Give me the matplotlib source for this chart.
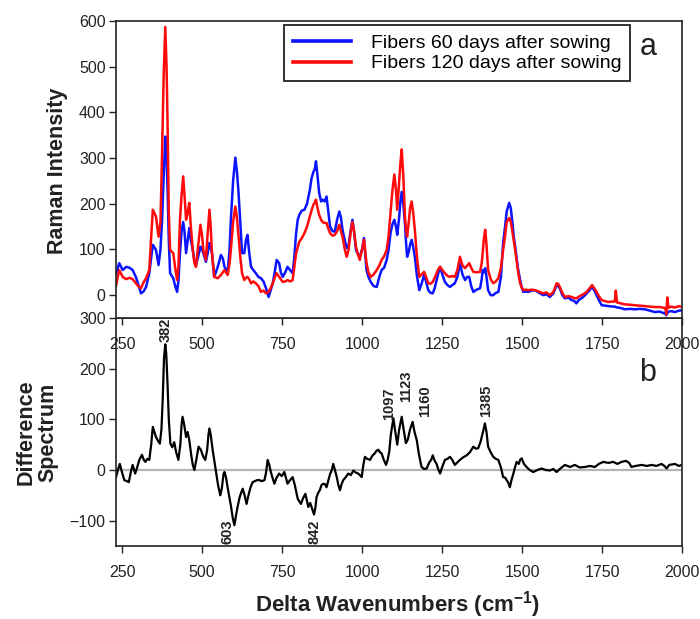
import matplotlib
matplotlib.use("Agg")
import matplotlib.pyplot as plt
import numpy as np

plt.rcParams['font.family'] = ['Liberation Sans', 'DejaVu Sans']
plt.rcParams['mathtext.fontset'] = 'custom'
plt.rcParams['mathtext.rm'] = 'Liberation Sans'
plt.rcParams['mathtext.bf'] = 'Liberation Sans:bold'

# ---------------- data: top panel (Raman spectra) ----------------
wn_top = [231, 241, 252, 263, 273, 283, 293, 300, 309, 317, 325, 335, 346, 356, 364, 370, 375, 380,
          385, 389, 392, 396, 400, 410, 416, 422, 426, 431, 436, 441, 445, 450, 455, 460, 465, 471,
          476, 481, 488, 495, 500, 504, 512, 517, 523, 527, 531, 538, 549, 559, 565, 570, 580, 586,
          590, 597, 604, 609, 614, 620, 625, 632, 637, 642, 647, 653, 660, 668, 676, 684, 692, 700,
          708, 714, 721, 727, 733, 741, 746, 752, 760, 767, 775, 783, 788, 794, 799, 804, 812, 820,
          828, 837, 842, 848, 852, 856, 861, 866, 872, 877, 883, 889, 895, 900, 908, 915, 922, 929,
          934, 939, 946, 952, 958, 964, 970, 975, 981, 987, 993, 1000, 1006, 1010, 1014, 1020, 1027,
          1036, 1046, 1054, 1061, 1069, 1077, 1083, 1089, 1095, 1101, 1106, 1110, 1116, 1120, 1124,
          1129, 1134, 1138, 1141, 1146, 1150, 1155, 1160, 1165, 1172, 1179, 1186, 1194, 1200, 1207,
          1214, 1221, 1227, 1233, 1239, 1244, 1251, 1259, 1267, 1275, 1282, 1290, 1298, 1306, 1314,
          1322, 1329, 1335, 1341, 1348, 1358, 1369, 1374, 1377, 1381, 1385, 1389, 1394, 1402, 1410,
          1418, 1426, 1434, 1441, 1447, 1452, 1460, 1465, 1469, 1474, 1480, 1487, 1493, 1498, 1504,
          1512, 1519, 1530, 1540, 1552, 1566, 1576, 1587, 1598, 1608, 1613, 1618, 1626, 1634, 1645,
          1655, 1662, 1670, 1678, 1686, 1694, 1702, 1710, 1719, 1726, 1733, 1741, 1749, 1760, 1769,
          1782, 1790, 1793, 1797, 1808, 1821, 1837, 1853, 1868, 1884, 1900, 1915, 1930, 1945, 1948,
          1951, 1954, 1958, 1965, 1978, 1990, 2000]

blue_60 = [45, 70, 55, 62, 60, 55, 40, 25, 4, 8, 18, 48, 110, 99, 66, 100, 165, 260,
           347, 300, 237, 120, 48, 37, 20, 7, 30, 92, 140, 160, 140, 92, 120, 147, 120, 99,
           75, 66, 85, 106, 100, 92, 73, 90, 114, 105, 92, 40, 62, 88, 80, 62, 51, 100,
           165, 250, 301, 270, 224, 150, 92, 92, 120, 132, 95, 62, 55, 48, 40, 37, 30, 15,
           -4, 10, 26, 50, 77, 70, 50, 40, 50, 62, 55, 48, 80, 136, 165, 176, 185, 187,
           200, 231, 255, 270, 275, 293, 260, 224, 205, 209, 205, 216, 180, 150, 140, 139, 165, 183,
           170, 143, 120, 103, 110, 140, 165, 140, 99, 90, 84, 100, 125, 90, 55, 40, 29,
           20, 18, 40, 55, 60, 77, 100, 136, 155, 165, 150, 132, 170, 205, 226,
           200, 158, 110, 84, 95, 110, 121, 105, 84, 40, 11, 25, 44, 30, 11,
           5, 4, 15, 33, 50, 62, 45, 29, 22, 18, 22, 26, 40, 70, 45,
           33, 40, 40, 20, 7, 12, 15, 35, 55, 50, 59, 40, 11, 0, 0,
           5, 7, 40, 114, 150, 183, 202, 190, 165, 130, 99, 60, 37, 20, 7,
           8, 7, 10, 11, 6, 0, 2, -4, 4, 22, 20, 15, 0, -7, -5,
           -11, -12, -18, -10, -7, -2, 4, 10, 18, 10, 0, -12, -22, -23, -24,
           -25, -25, -26, -27, -28, -31, -30, -31, -30, -31, -34, -37, -36, -40, -38,
           -44, -40, -36, -35, -37, -34, -33]

red_120 = [20, 55, 40, 35, 38, 35, 26, 20, 15, 28, 37, 55, 187, 172, 128, 160, 312, 480,
           587, 500, 385, 180, 99, 92, 60, 33, 60, 165, 220, 260, 220, 165, 180, 202, 150, 99,
           70, 62, 110, 154, 130, 99, 77, 130, 187, 150, 92, 40, 37, 44, 50, 55, 44, 70,
           99, 160, 194, 170, 128, 80, 48, 33, 38, 40, 35, 26, 30, 26, 20, 7, 10, 4,
           7, 15, 26, 38, 48, 40, 35, 29, 30, 33, 30, 33, 60, 92, 105, 117, 125, 136,
           150, 172, 185, 198, 202, 209, 190, 176, 165, 160, 158, 158, 145, 136, 130, 132, 140, 154,
           140, 128, 100, 84, 100, 135, 160, 140, 106, 90, 77, 100, 121, 95, 70, 50, 40,
           45, 55, 65, 77, 85, 99, 130, 180, 230, 264, 230, 187, 250, 290, 319,
           260, 172, 140, 128, 160, 190, 205, 180, 143, 80, 40, 45, 51, 40, 26,
           25, 29, 38, 48, 58, 62, 55, 48, 42, 40, 42, 40, 55, 84, 65,
           59, 65, 70, 60, 51, 50, 51, 70, 92, 125, 143, 110, 55, 35, 26,
           30, 37, 60, 99, 130, 160, 169, 160, 143, 120, 92, 55, 29, 18, 11,
           12, 11, 12, 11, 8, 4, 6, 0, 7, 26, 25, 18, 5, -4, -2,
           -4, -6, -7, -3, 0, 3, 7, 14, 22, 15, 7, -3, -11, -13, -15,
           -14, -14, 10, -16, -18, -20, -21, -22, -23, -24, -25, -26, -26, -28, -28,
           -42, -5, -28, -25, -27, -24, -26]

# ---------------- data: bottom panel (difference spectrum) ----------------
wn_diff = [231, 237, 243, 250, 257, 265, 271, 277, 283, 291, 297, 304, 312, 318, 323, 329, 335, 341,
           346, 351, 356, 362, 368, 373, 377, 381, 385, 388, 392, 396, 401, 407, 413, 419, 426, 432,
           436, 439, 444, 450, 455, 460, 466, 471, 476, 482, 489, 496, 504, 510, 516, 520, 523, 527,
           533, 539, 544, 550, 557, 562, 567, 570, 575, 580, 585, 590, 596, 601, 606, 611, 617, 622,
           627, 633, 639, 645, 651, 658, 665, 672, 679, 687, 695, 700, 705, 710, 715, 720, 726, 733,
           741, 749, 757, 762, 767, 775, 783, 790, 799, 804, 809, 816, 823, 832, 838, 846, 850, 854,
           858, 863, 868, 873, 879, 884, 889, 895, 900, 905, 910, 915, 921, 926, 931, 936, 941, 948,
           957, 965, 973, 980, 988, 993, 999, 1004, 1009, 1016, 1025, 1032, 1040, 1045, 1051, 1056,
           1061, 1068, 1075, 1080, 1085, 1090, 1098, 1104, 1110, 1116, 1124, 1130, 1137, 1143, 1150,
           1158, 1164, 1171, 1178, 1186, 1194, 1202, 1210, 1216, 1221, 1227, 1233, 1239, 1244, 1250,
           1259, 1267, 1275, 1282, 1290, 1298, 1306, 1316, 1327, 1337, 1348, 1356, 1363, 1370, 1378,
           1384, 1389, 1394, 1402, 1410, 1418, 1426, 1434, 1441, 1447, 1452, 1457, 1462, 1467, 1473,
           1478, 1483, 1490, 1494, 1499, 1506, 1514, 1524, 1535, 1548, 1561, 1574, 1587, 1598, 1608,
           1620, 1634, 1650, 1665, 1680, 1697, 1712, 1728, 1740, 1754, 1770, 1785, 1798, 1811, 1825,
           1835, 1842, 1855, 1874, 1890, 1905, 1920, 1936, 1945, 1952, 1960, 1978, 1990, 2000]

diff = [-14, 0, 12, -5, -20, -22, -24, -5, 10, -7, 5, 20, 30, 20, 16, 22, 20, 50,
        85, 75, 65, 58, 52, 80, 139, 220, 248, 230, 171, 100, 52, 45, 55, 35, 20, 50,
        90, 105, 90, 65, 75, 59, 30, 10, 0, 20, 46, 40, 26, 20, 40, 70, 82, 70,
        40, 15, -7, -30, -50, -35, -8, -4, -15, -35, -53, -70, -95, -109, -90, -73, -55, -45,
        -37, -50, -67, -50, -35, -24, -22, -20, -20, -22, -20, -5, 20, 10, -4, -15, -27, -15,
        -7, -12, -4, -15, -27, -20, -14, -30, -57, -62, -67, -55, -47, -73, -65, -80, -88, -75,
        -53, -45, -40, -30, -27, -28, -34, -20, -8, -1, 12, 0, -14, -30, -40, -28, -20, -15,
        -7, -10, -1, -5, -7, -10, -14, 10, 26, 22, 20, 28, 33, 38, 40, 35,
        33, 20, 10, 20, 36, 70, 102, 75, 50, 80, 105, 80, 53, 60, 80,
        95, 75, 59, 30, 6, 2, 3, 15, 20, 29, 18, 12, 0, -7, 5,
        20, 22, 26, 20, 10, 15, 20, 25, 29, 35, 46, 42, 43, 55, 75,
        92, 75, 46, 35, 26, 22, 20, 5, -14, -15, -20, -25, -34, -20, -7,
        5, 16, 12, 20, 23, 12, 6, 0, -4, 0, 3, 0, -1, 2, -4,
        3, 10, 6, 10, 5, 6, 8, 6, 12, 16, 14, 16, 12, 16, 18,
        14, 6, 8, 10, 8, 10, 8, 12, 8, 3, 10, 12, 8, 10]

peak_labels = ['382', '603', '842', '1097', '1123', '1160', '1385']
peak_x = [387, 578, 852, 1084, 1137, 1196, 1387]
peak_y = [253, -97, -97, 98, 135, 105, 105]
peak_va = ['bottom', 'top', 'top', 'bottom', 'bottom', 'bottom', 'bottom']

xticks = [250, 500, 750, 1000, 1250, 1500, 1750, 2000]
top_yticks = [0, 100, 200, 300, 400, 500, 600]
bot_yticks = [-100, 0, 100, 200, 300]

# ---------------- figure ----------------
W, H = 700, 619
fig = plt.figure(figsize=(7.0, 6.19), dpi=100)

def fx(px):
    return px / W

def fy(py):
    return 1 - py / H

ax1 = fig.add_axes([fx(116), fy(318), fx(682) - fx(116), fy(21) - fy(318)])
ax2 = fig.add_axes([fx(116), fy(546), fx(682) - fx(116), fy(318) - fy(546)])
ax1.set_zorder(3)
ax2.set_zorder(1)

ax1.plot(wn_top, blue_60, color='#0a14ff', lw=1.8, label='Fibers 60 days after sowing')
ax1.plot(wn_top, red_120, color='#ff0a0a', lw=1.8, label='Fibers 120 days after sowing')
ax1.set_xlim(231, 2000)
ax1.set_ylim(-50, 600)
ax1.set_xticks(xticks)
ax1.set_yticks(top_yticks)

ax2.axhline(0, color='#b4b4b4', lw=1.6, zorder=1)
ax2.plot(wn_diff, diff, color='black', lw=1.6, zorder=2)
ax2.set_xlim(231, 2000)
ax2.set_ylim(-150, 300)
ax2.set_xticks(xticks)
ax2.set_yticks(bot_yticks)

for ax in (ax1, ax2):
    for s in ax.spines.values():
        s.set_linewidth(1.2)
        s.set_color('#222222')
    ax.tick_params(axis='both', direction='out', length=5, width=1.0,
                   labelsize=11.5, colors='#222222', labelcolor='#222222')
    ax.tick_params(axis='x', pad=9)
    ax.tick_params(axis='y', pad=2.5)

leg = ax1.legend(loc='upper left', bbox_to_anchor=(0.297, 0.985), fontsize=14,
                 frameon=True, fancybox=False, framealpha=1, edgecolor='#222222',
                 handlelength=3.0, handletextpad=1.0, borderpad=0.45, labelspacing=0.15,
                 borderaxespad=0)
leg.get_frame().set_linewidth(1.3)
for ln in leg.get_lines():
    ln.set_linewidth(2.6)

ax1.text(fx(648), fy(47), 'a', transform=fig.transFigure, fontsize=22,
         ha='center', va='center', color='#222222')
ax2.text(fx(648), fy(373), 'b', transform=fig.transFigure, fontsize=22,
         ha='center', va='center', color='#222222')

for lab, x, y, va in zip(peak_labels, peak_x, peak_y, peak_va):
    ax2.text(x, y, lab, rotation=90, ha='center', va=va, fontsize=10.5,
             fontweight='bold', color='#222222', clip_on=False, zorder=5)

fig.text(fx(58), fy(171), 'Raman Intensity', rotation=90, ha='center', va='center',
         fontsize=15.5, fontweight='bold', color='#222222')
fig.text(fx(37), fy(432), 'Difference\nSpectrum', rotation=90, ha='center', va='center',
         fontsize=15.5, fontweight='bold', color='#222222', linespacing=1.05)
fig.text(fx(398), fy(605), r'Delta Wavenumbers (cm$^{\mathbf{-1}}$)', ha='center', va='center',
         fontsize=16, fontweight='bold', color='#222222')

fig.savefig('out.png', dpi=100)
